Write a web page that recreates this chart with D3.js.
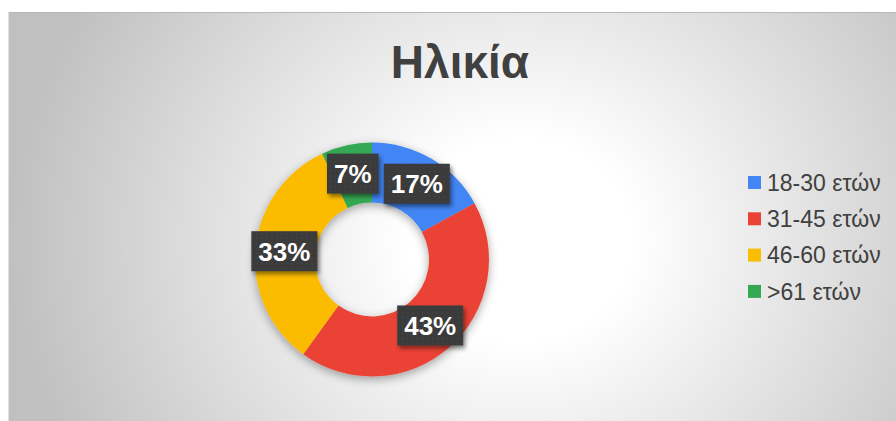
<!DOCTYPE html>
<html><head><meta charset="utf-8">
<script src="https://cdn.jsdelivr.net/npm/d3@7"></script>
<style>html,body{margin:0;padding:0;background:#fff;}svg{display:block;}</style>
</head><body>
<svg id="c" width="896" height="421"></svg>
<script>
const title = "Ηλικία";
const categories = ["18-30 ετών", "31-45 ετών", "46-60 ετών", ">61 ετών"];
const values = [17, 43, 33, 7];
const colors = ["#4285F4", "#EA4335", "#FBBC04", "#34A853"];

const svg = d3.select("#c");
const defs = svg.append("defs");

const rg = defs.append("radialGradient").attr("id","bg")
  .attr("gradientUnits","userSpaceOnUse")
  .attr("cx",520).attr("cy",240).attr("r",510)
  .attr("gradientTransform","translate(520,240) scale(1,0.9) translate(-520,-240)");
rg.append("stop").attr("offset","0").attr("stop-color","#ffffff");
rg.append("stop").attr("offset","0.22").attr("stop-color","#ffffff");
rg.append("stop").attr("offset","1").attr("stop-color","#c0c0c0");

const pat = defs.append("pattern").attr("id","dots").attr("patternUnits","userSpaceOnUse")
  .attr("width",5).attr("height",5);
pat.append("rect").attr("width",5).attr("height",5).attr("fill","#3a3a3a");
pat.append("rect").attr("x",2).attr("y",2).attr("width",1).attr("height",1).attr("fill","#4e4e4e");

const sh = defs.append("filter").attr("id","sh").attr("x","-30%").attr("y","-30%").attr("width","160%").attr("height","160%");
sh.append("feDropShadow").attr("dx",0).attr("dy",3).attr("stdDeviation",5).attr("flood-color","#000").attr("flood-opacity",0.35);
const sh2 = defs.append("filter").attr("id","sh2").attr("x","-30%").attr("y","-30%").attr("width","160%").attr("height","160%");
sh2.append("feDropShadow").attr("dx",2).attr("dy",3).attr("stdDeviation",2).attr("flood-color","#000").attr("flood-opacity",0.45);

// chart area
svg.append("rect").attr("x",9).attr("y",12).attr("width",887).attr("height",409).attr("fill","url(#bg)");
svg.append("line").attr("x1",9).attr("x2",896).attr("y1",12.5).attr("y2",12.5).attr("stroke","#b8b8b8");
svg.append("line").attr("x1",8.5).attr("x2",8.5).attr("y1",12).attr("y2",421).attr("stroke","#e0e0e0");

svg.append("text").attr("x",460).attr("y",77.5).attr("text-anchor","middle")
  .attr("font-family","Liberation Sans, Arial, sans-serif").attr("font-weight","bold")
  .attr("font-size",46).attr("fill","#404040").text(title);

const cx = 372, cy = 259.5, R = 117, r = 57;
const pie = d3.pie().sort(null).value(d => d)(values);
const arc = d3.arc().innerRadius(r).outerRadius(R);
const g = svg.append("g").attr("transform",`translate(${cx},${cy})`);
const ring = g.append("g").attr("filter","url(#sh)");
ring.selectAll("path").data(pie).join("path").attr("d",arc).attr("fill",(d,i)=>colors[i]);

const lblArc = d3.arc().innerRadius(88).outerRadius(88);
const lg = g.selectAll("g.lbl").data(pie).join("g").attr("class","lbl")
  .attr("transform",d=>`translate(${lblArc.centroid(d)})`);
lg.each(function(d){
  const s = d3.select(this);
  const t = s.append("text").attr("text-anchor","middle").attr("dy","0.36em")
    .attr("font-family","Liberation Sans, Arial, sans-serif").attr("font-weight","bold")
    .attr("font-size",26).attr("fill","#ffffff").text(d.data + "%");
  const bb = t.node().getBBox();
  const w = bb.width + 14, h = 40;
  s.insert("rect","text").attr("x",-w/2).attr("y",-h/2).attr("width",w).attr("height",h)
    .attr("fill","url(#dots)").attr("filter","url(#sh2)");
});

const leg = svg.append("g").attr("transform","translate(748,182.5)");
const li = leg.selectAll("g").data(categories).join("g").attr("transform",(d,i)=>`translate(0,${i*36.3})`);
li.append("rect").attr("x",0).attr("y",-6.5).attr("width",13).attr("height",13).attr("fill",(d,i)=>colors[i]);
li.append("text").attr("x",19).attr("y",0).attr("dy","0.36em")
  .attr("font-family","Liberation Sans, Arial, sans-serif").attr("font-size",23)
  .attr("fill","#404040").text(d=>d);
</script>
</body></html>
